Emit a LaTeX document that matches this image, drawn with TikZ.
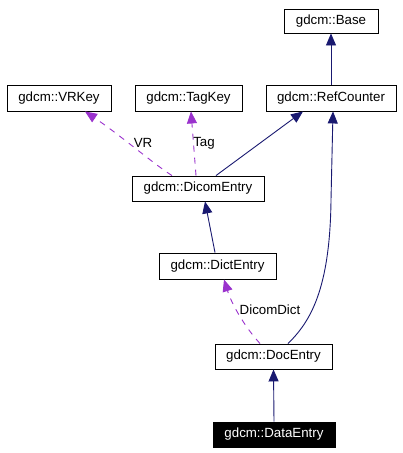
\documentclass[tikz,border=0pt]{standalone}
\usepackage{fontspec}
\setmainfont{Liberation Sans}
\usetikzlibrary{arrows.meta,calc}
\definecolor{inhcol}{HTML}{191970}
\definecolor{usecol}{HTML}{9A32CD}
\tikzset{
  cls/.style={draw=black, line width=0.9pt, fill=white, inner sep=0pt, font=\fontsize{13.3}{15}\selectfont, text=black},
  lbl/.style={inner sep=0pt, font=\fontsize{13.3}{15}\selectfont, text=black},
  inh/.style={draw=inhcol, line width=0.9pt, -{Triangle[width=10pt,length=12pt,fill=inhcol]}},
  use/.style={draw=usecol, line width=0.9pt, dash pattern=on 6pt off 6pt, -{Triangle[width=10pt,length=12pt,fill=usecol]}},
}
\begin{document}
\begin{tikzpicture}[x=1pt,y=-1pt]
\useasboundingbox (0,0) rectangle (403,453);
\node[cls, minimum width=94pt, minimum height=24pt] (Base) at (331,21) {gdcm::Base};
\node[cls, minimum width=104pt, minimum height=26pt] (VRKey) at (59,98) {gdcm::VRKey};
\node[cls, minimum width=107pt, minimum height=26pt] (TagKey) at (188.5,98) {gdcm::TagKey};
\node[cls, minimum width=130pt, minimum height=26pt] (RefCounter) at (331,98) {gdcm::RefCounter};
\node[cls, minimum width=132pt, minimum height=25pt] (DicomEntry) at (198,188.5) {gdcm::DicomEntry};
\node[cls, minimum width=117pt, minimum height=26pt] (DictEntry) at (217.5,266) {gdcm::DictEntry};
\node[cls, minimum width=117pt, minimum height=25pt] (DocEntry) at (273.5,356.5) {gdcm::DocEntry};
\node[cls, fill=black, text=white, minimum width=122pt, minimum height=25pt] (DataEntry) at (274,434.5) {gdcm::DataEntry};

\draw[inh] (RefCounter.north) -- (Base.south);
\draw[inh] ($(DicomEntry.north)+(18,0)$) -- ($(RefCounter.south)+(-28,0)$);
\draw[use] ($(DicomEntry.north)+(-26,0)$) .. controls (155,165) and (120,135) .. ($(VRKey.south)+(26,0)$);
\draw[use] ($(DicomEntry.north)+(-2,0)$) -- ($(TagKey.south)+(2.5,0)$);
\draw[inh] ($(DictEntry.north)+(-2.5,0)$) -- ($(DicomEntry.south)+(7,0)$);
\draw[use] ($(DocEntry.north)+(-13.5,0)$) .. controls (245,327) and (232,305) .. ($(DictEntry.south)+(6.5,0)$);
\draw[inh] ($(DocEntry.north)+(14.5,0)$) .. controls (310,322) and (330,290) .. (331,200) -- ($(RefCounter.south)+(2,0)$);
\draw[inh] (DataEntry.north) -- (DocEntry.south);

\node[lbl] (lVR) at (143,143) {VR};
\node[lbl] (lTag) at (204,143) {Tag};
\node[lbl] (lDD) at (270,310) {DicomDict};
\end{tikzpicture}
\end{document}
